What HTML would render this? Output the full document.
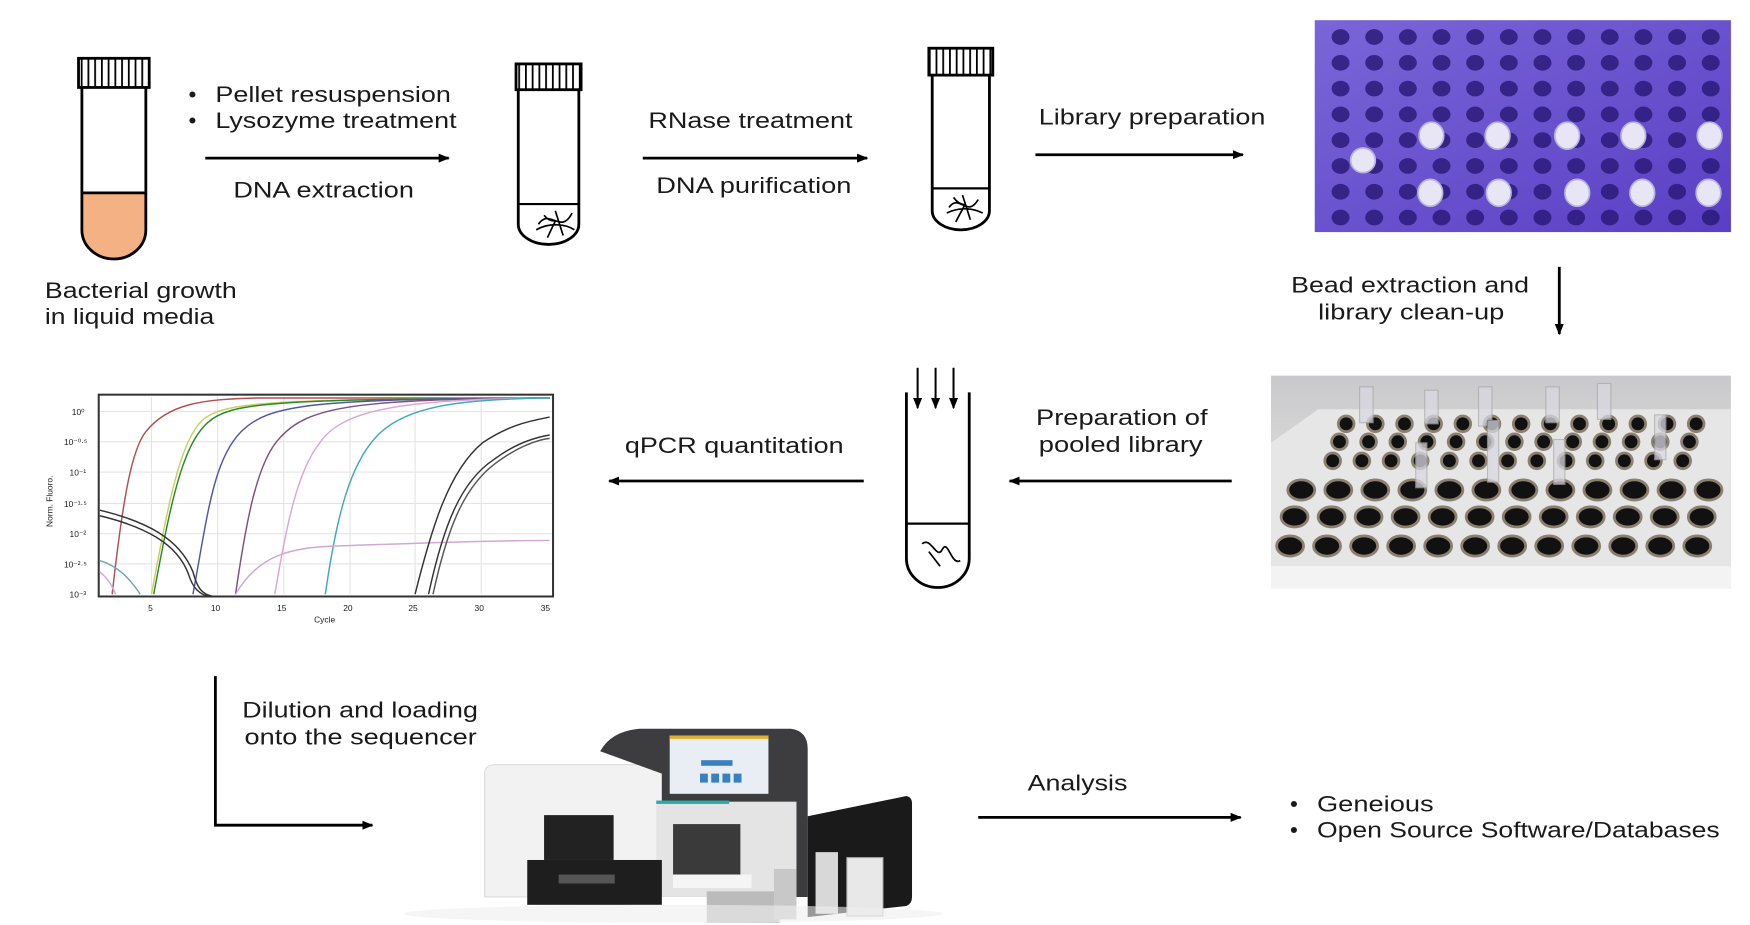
<!DOCTYPE html>
<html><head><meta charset="utf-8"><style>
html,body{margin:0;padding:0;background:#fff;width:1750px;height:925px;overflow:hidden}
svg{display:block}
text{font-family:"Liberation Sans",Arial,sans-serif;fill:#1a1a1a}
</style></head><body>
<svg width="1750" height="925" viewBox="0 0 1560 825" preserveAspectRatio="none" xmlns="http://www.w3.org/2000/svg">
<defs>
<marker id="ah" markerWidth="10" markerHeight="10" refX="9" refY="5" orient="auto" markerUnits="userSpaceOnUse"><path d="M0,1 L10,5 L0,9 Z" fill="#000"/></marker>
<pattern id="stripe" width="6" height="30" patternUnits="userSpaceOnUse"><rect width="6" height="30" fill="#fff"/><rect x="0" width="1.6" height="30" fill="#000"/></pattern>
<linearGradient id="wp" x1="0" y1="0" x2="0" y2="1"><stop offset="0" stop-color="#c9c9cb"/><stop offset="0.5" stop-color="#dcdcdc"/><stop offset="1" stop-color="#f4f4f4"/></linearGradient>
<linearGradient id="pp" x1="0" y1="0" x2="1" y2="1"><stop offset="0" stop-color="#7a66d8"/><stop offset="1" stop-color="#5a3fc4"/></linearGradient>
<g id="prow">
<ellipse cx="1195" cy="0" rx="8" ry="7"/><ellipse cx="1225" cy="0" rx="8" ry="7"/><ellipse cx="1255" cy="0" rx="8" ry="7"/><ellipse cx="1285" cy="0" rx="8" ry="7"/><ellipse cx="1315" cy="0" rx="8" ry="7"/><ellipse cx="1345" cy="0" rx="8" ry="7"/><ellipse cx="1375" cy="0" rx="8" ry="7"/><ellipse cx="1405" cy="0" rx="8" ry="7"/><ellipse cx="1435" cy="0" rx="8" ry="7"/><ellipse cx="1465" cy="0" rx="8" ry="7"/><ellipse cx="1495" cy="0" rx="8" ry="7"/><ellipse cx="1525" cy="0" rx="8" ry="7"/>
</g>
<g id="wr1"><circle cx="1200" cy="0" r="7"/><circle cx="1226" cy="0" r="7"/><circle cx="1252" cy="0" r="7"/><circle cx="1278" cy="0" r="7"/><circle cx="1304" cy="0" r="7"/><circle cx="1330" cy="0" r="7"/><circle cx="1356" cy="0" r="7"/><circle cx="1382" cy="0" r="7"/><circle cx="1408" cy="0" r="7"/><circle cx="1434" cy="0" r="7"/><circle cx="1460" cy="0" r="7"/><circle cx="1486" cy="0" r="7"/><circle cx="1512" cy="0" r="7"/></g>
<g id="wr2"><ellipse cx="1160" cy="0" rx="12" ry="9"/><ellipse cx="1193" cy="0" rx="12" ry="9"/><ellipse cx="1226" cy="0" rx="12" ry="9"/><ellipse cx="1259" cy="0" rx="12" ry="9"/><ellipse cx="1292" cy="0" rx="12" ry="9"/><ellipse cx="1325" cy="0" rx="12" ry="9"/><ellipse cx="1358" cy="0" rx="12" ry="9"/><ellipse cx="1391" cy="0" rx="12" ry="9"/><ellipse cx="1424" cy="0" rx="12" ry="9"/><ellipse cx="1457" cy="0" rx="12" ry="9"/><ellipse cx="1490" cy="0" rx="12" ry="9"/><ellipse cx="1523" cy="0" rx="12" ry="9"/></g>
</defs>

<!-- Tube 1 -->
<rect x="70" y="52" width="63" height="26" fill="url(#stripe)" stroke="#000" stroke-width="2.5"/>
<path d="M73,172 L73,205 A28.5,26 0 0 0 130,205 L130,172 Z" fill="#f4b183"/>
<path d="M73,78 L73,205 A28.5,26 0 0 0 130,205 L130,78" fill="none" stroke="#000" stroke-width="2.5"/>
<line x1="73" y1="172" x2="130" y2="172" stroke="#000" stroke-width="2.5"/>

<text x="168" y="91" font-size="20">•</text>
<text x="192" y="91" font-size="20" textLength="210" lengthAdjust="spacingAndGlyphs">Pellet resuspension</text>
<text x="168" y="114" font-size="20">•</text>
<text x="192" y="114" font-size="20" textLength="215" lengthAdjust="spacingAndGlyphs">Lysozyme treatment</text>
<line x1="183" y1="141" x2="400" y2="141" stroke="#000" stroke-width="2.5" marker-end="url(#ah)"/>
<text x="208" y="176" font-size="20" textLength="161" lengthAdjust="spacingAndGlyphs">DNA extraction</text>
<text x="40" y="266" font-size="20" textLength="171" lengthAdjust="spacingAndGlyphs">Bacterial growth</text>
<text x="40" y="289" font-size="20" textLength="151" lengthAdjust="spacingAndGlyphs">in liquid media</text>

<!-- Tube 2 -->
<rect x="460" y="57" width="58" height="23" fill="url(#stripe)" stroke="#000" stroke-width="2.5"/>
<path d="M462,80 L462,200 A27,18 0 0 0 516,200 L516,80" fill="none" stroke="#000" stroke-width="2.5"/>
<line x1="462" y1="182" x2="516" y2="182" stroke="#000" stroke-width="2"/>
<path d="M480,200 C490,185 500,210 510,190 M485,192 C495,205 500,185 488,212 M495,188 L502,210 M478,205 C490,198 505,200 512,205" fill="none" stroke="#000" stroke-width="1.5"/>

<text x="578" y="114" font-size="20" textLength="182" lengthAdjust="spacingAndGlyphs">RNase treatment</text>
<line x1="573" y1="141" x2="773" y2="141" stroke="#000" stroke-width="2.5" marker-end="url(#ah)"/>
<text x="585" y="172" font-size="20" textLength="174" lengthAdjust="spacingAndGlyphs">DNA purification</text>

<!-- Tube 3 -->
<rect x="828" y="43" width="57" height="24" fill="url(#stripe)" stroke="#000" stroke-width="2.5"/>
<path d="M831,67 L831,188 A25.5,17 0 0 0 882,188 L882,67" fill="none" stroke="#000" stroke-width="2.5"/>
<line x1="831" y1="168" x2="882" y2="168" stroke="#000" stroke-width="2"/>
<path d="M846,185 C855,172 862,195 872,178 M850,176 C860,190 865,172 852,198 M858,174 L865,196 M844,190 C856,184 868,186 876,190" fill="none" stroke="#000" stroke-width="1.5"/>

<text x="926" y="111" font-size="20" textLength="202" lengthAdjust="spacingAndGlyphs">Library preparation</text>
<line x1="923" y1="138" x2="1108" y2="138" stroke="#000" stroke-width="2.5" marker-end="url(#ah)"/>

<!-- Purple plate -->
<rect x="1172" y="18" width="371" height="189" fill="url(#pp)"/>
<g fill="#2d1b7a" opacity="0.85">
<use href="#prow" y="33"/><use href="#prow" y="56"/><use href="#prow" y="79"/><use href="#prow" y="102"/><use href="#prow" y="125"/><use href="#prow" y="148"/><use href="#prow" y="171"/><use href="#prow" y="194"/>
</g>
<g fill="#e8e6f4" stroke="#b8b2dc" stroke-width="1.5">
<ellipse cx="1276" cy="121" rx="11" ry="12"/><ellipse cx="1335" cy="121" rx="11" ry="12"/><ellipse cx="1397" cy="121" rx="11" ry="12"/><ellipse cx="1456" cy="121" rx="11" ry="12"/><ellipse cx="1524" cy="121" rx="11" ry="12"/>
<ellipse cx="1215" cy="143" rx="11" ry="11"/>
<ellipse cx="1275" cy="172" rx="11" ry="12"/><ellipse cx="1336" cy="172" rx="11" ry="12"/><ellipse cx="1406" cy="172" rx="11" ry="12"/><ellipse cx="1464" cy="172" rx="11" ry="12"/><ellipse cx="1523" cy="172" rx="11" ry="12"/>
</g>

<text x="1257" y="261" font-size="20" text-anchor="middle" textLength="212" lengthAdjust="spacingAndGlyphs">Bead extraction and</text>
<text x="1258" y="285" font-size="20" text-anchor="middle" textLength="166" lengthAdjust="spacingAndGlyphs">library clean-up</text>
<line x1="1390" y1="238" x2="1390" y2="298" stroke="#000" stroke-width="2.5" marker-end="url(#ah)"/>

<!-- White plate -->
<rect x="1133" y="335" width="410" height="190" fill="url(#wp)"/>
<path d="M1133,395 L1175,365 L1543,365 L1543,505 L1133,505 Z" fill="#e6e6e6"/>
<g fill="#111" stroke="#8a8070" stroke-width="2.5">
<use href="#wr1" y="378"/><use href="#wr1" x="-6" y="394"/><use href="#wr1" x="-12" y="411"/>
<use href="#wr2" y="437"/><use href="#wr2" x="-6" y="461"/><use href="#wr2" x="-10" y="487"/>
</g>
<g fill="#d8d8e0" stroke="#aaa" stroke-width="1" opacity="0.75">
<rect x="1212" y="345" width="12" height="32"/><rect x="1270" y="348" width="12" height="30"/><rect x="1318" y="345" width="12" height="35"/><rect x="1378" y="345" width="12" height="32"/><rect x="1424" y="342" width="12" height="32"/>
<rect x="1262" y="395" width="10" height="40"/><rect x="1326" y="375" width="10" height="55"/><rect x="1385" y="392" width="10" height="40"/><rect x="1475" y="370" width="10" height="40"/>
</g>
<rect x="1133" y="505" width="410" height="20" fill="#f3f3f3"/>

<text x="1000" y="379" font-size="20" text-anchor="middle" textLength="153" lengthAdjust="spacingAndGlyphs">Preparation of</text>
<text x="999" y="403" font-size="20" text-anchor="middle" textLength="146" lengthAdjust="spacingAndGlyphs">pooled library</text>
<line x1="1098" y1="429" x2="900" y2="429" stroke="#000" stroke-width="2.5" marker-end="url(#ah)"/>

<!-- Tube 4 -->
<path d="M808,350 L808,498 A28,26 0 0 0 864,498 L864,350" fill="none" stroke="#000" stroke-width="2.5"/>
<line x1="808" y1="467" x2="864" y2="467" stroke="#000" stroke-width="2"/>
<path d="M822,485 C830,478 835,500 840,490 C845,480 848,505 856,500 M828,492 L838,505" fill="none" stroke="#000" stroke-width="1.5"/>
<line x1="818" y1="328" x2="818" y2="364" stroke="#000" stroke-width="1.8" marker-end="url(#ah)"/>
<line x1="834" y1="328" x2="834" y2="364" stroke="#000" stroke-width="1.8" marker-end="url(#ah)"/>
<line x1="850" y1="328" x2="850" y2="364" stroke="#000" stroke-width="1.8" marker-end="url(#ah)"/>

<text x="557" y="404" font-size="20" textLength="195" lengthAdjust="spacingAndGlyphs">qPCR quantitation</text>
<line x1="770" y1="429" x2="543" y2="429" stroke="#000" stroke-width="2.5" marker-end="url(#ah)"/>

<!-- Chart -->
<g stroke="#e4e4e4" stroke-width="1">
<line x1="135" y1="354" x2="135" y2="530"/><line x1="194" y1="354" x2="194" y2="530"/><line x1="253" y1="354" x2="253" y2="530"/><line x1="312" y1="354" x2="312" y2="530"/><line x1="370" y1="354" x2="370" y2="530"/><line x1="429" y1="354" x2="429" y2="530"/>
<line x1="88" y1="367" x2="493" y2="367"/><line x1="88" y1="394" x2="493" y2="394"/><line x1="88" y1="421" x2="493" y2="421"/><line x1="88" y1="449" x2="493" y2="449"/><line x1="88" y1="476" x2="493" y2="476"/><line x1="88" y1="503" x2="493" y2="503"/>
</g>
<rect x="88" y="352" width="405" height="180" fill="none" stroke="#333" stroke-width="1.8"/>
<g fill="none" stroke-width="1.3">
<path d="M100,530 C110,440 118,400 130,385 C150,360 180,356 230,355 L490,355" stroke="#b05050"/>
<path d="M135,530 C150,450 160,395 180,375 C200,358 240,356 490,355" stroke="#c8d060"/>
<path d="M137,530 C152,450 162,398 185,377 C205,359 240,356 490,355" stroke="#2c8a2c"/>
<path d="M172,530 C185,460 190,410 215,385 C240,360 280,356 490,355" stroke="#5058a0"/>
<path d="M210,530 C220,460 230,410 250,390 C275,362 320,356 490,355" stroke="#805080"/>
<path d="M245,530 C255,470 265,420 285,395 C305,365 360,356 490,355" stroke="#d8a8d8"/>
<path d="M290,530 C300,460 312,415 335,390 C360,362 410,356 490,355" stroke="#40a8b8"/>
<path d="M210,530 C230,495 260,488 300,487 C380,484 440,482 490,482" stroke="#d0a8d0"/>
<path d="M370,530 C385,470 400,420 430,395 C455,378 475,375 490,372" stroke="#333"/>
<path d="M382,530 C395,470 410,430 440,410 C460,395 478,390 490,388" stroke="#333"/>
<path d="M386,530 C398,475 412,435 442,413 C462,398 480,392 490,391" stroke="#555"/>
<path d="M89,455 C130,465 160,480 172,510 C176,525 180,530 190,532" stroke="#333"/>
<path d="M89,460 C130,470 158,485 168,512 C172,525 178,530 186,532" stroke="#333"/>
<path d="M89,500 C105,505 115,515 125,530" stroke="#70a8b0"/>
<path d="M89,510 C95,515 100,522 103,530" stroke="#d8a8d8"/>
</g>
<g font-size="7.5" fill="#333">
<text x="64" y="370">10⁰</text><text x="57" y="397">10⁻⁰·⁵</text><text x="62" y="424">10⁻¹</text><text x="57" y="452">10⁻¹·⁵</text><text x="62" y="479">10⁻²</text><text x="57" y="506">10⁻²·⁵</text><text x="62" y="533">10⁻³</text>
<text x="132" y="545">5</text><text x="188" y="545">10</text><text x="247" y="545">15</text><text x="306" y="545">20</text><text x="364" y="545">25</text><text x="423" y="545">30</text><text x="482" y="545">35</text>
<text x="280" y="555">Cycle</text>
<text transform="translate(47,470) rotate(-90)">Norm. Fluoro.</text>
</g>

<!-- Bent arrow -->
<path d="M192,603 L192,736 L332,736" fill="none" stroke="#000" stroke-width="2.5" marker-end="url(#ah)"/>
<text x="216" y="640" font-size="20" textLength="210" lengthAdjust="spacingAndGlyphs">Dilution and loading</text>
<text x="218" y="664" font-size="20" textLength="207" lengthAdjust="spacingAndGlyphs">onto the sequencer</text>

<!-- Sequencer -->
<g>
<path d="M432,690 Q432,682 442,682 L590,682 L590,800 L432,800 Z" fill="#f2f2f2" stroke="#ddd"/>
<path d="M535,670 Q545,652 570,650 L705,650 Q720,652 720,668 L720,800 L590,800 L590,690 Z" fill="#3d3d40"/>
<rect x="597" y="656" width="88" height="52" fill="#e8eef4"/>
<rect x="597" y="656" width="88" height="3" fill="#e0b030"/>
<rect x="625" y="678" width="28" height="5" fill="#3a80c0"/>
<rect x="624" y="690" width="7" height="8" fill="#3a80c0"/><rect x="634" y="690" width="7" height="8" fill="#3a80c0"/><rect x="644" y="690" width="7" height="8" fill="#3a80c0"/><rect x="654" y="690" width="7" height="8" fill="#3a80c0"/>
<rect x="585" y="715" width="125" height="85" fill="#e4e4e4"/>
<rect x="585" y="714" width="65" height="3" fill="#30a8a8"/>
<rect x="600" y="735" width="60" height="45" fill="#3a3a3a"/>
<rect x="600" y="780" width="70" height="12" fill="#f5f5f5"/>
<rect x="485" y="727" width="62" height="40" fill="#222"/>
<rect x="470" y="767" width="120" height="40" fill="#1e1e1e"/>
<rect x="498" y="780" width="50" height="8" fill="#555"/>
<path d="M720,728 L808,710 Q813,711 813,716 L813,800 Q813,806 808,808 L720,818 Z" fill="#1a1a1a"/>
<rect x="630" y="795" width="65" height="28" fill="#bbb"/>
<rect x="727" y="760" width="20" height="55" fill="#d8d8d8"/>
<rect x="755" y="765" width="32" height="52" fill="#e8e8e8" stroke="#bbb"/>
<rect x="690" y="775" width="20" height="45" fill="#c8c8c8"/>
<ellipse cx="600" cy="815" rx="240" ry="8" fill="#eee" opacity="0.6"/>
</g>

<text x="916" y="705" font-size="20" textLength="89" lengthAdjust="spacingAndGlyphs">Analysis</text>
<line x1="872" y1="729" x2="1106" y2="729" stroke="#000" stroke-width="2.5" marker-end="url(#ah)"/>
<text x="1150" y="724" font-size="20">•</text>
<text x="1174" y="724" font-size="20" textLength="104" lengthAdjust="spacingAndGlyphs">Geneious</text>
<text x="1150" y="747" font-size="20">•</text>
<text x="1174" y="747" font-size="20" textLength="359" lengthAdjust="spacingAndGlyphs">Open Source Software/Databases</text>
</svg>
</body></html>
